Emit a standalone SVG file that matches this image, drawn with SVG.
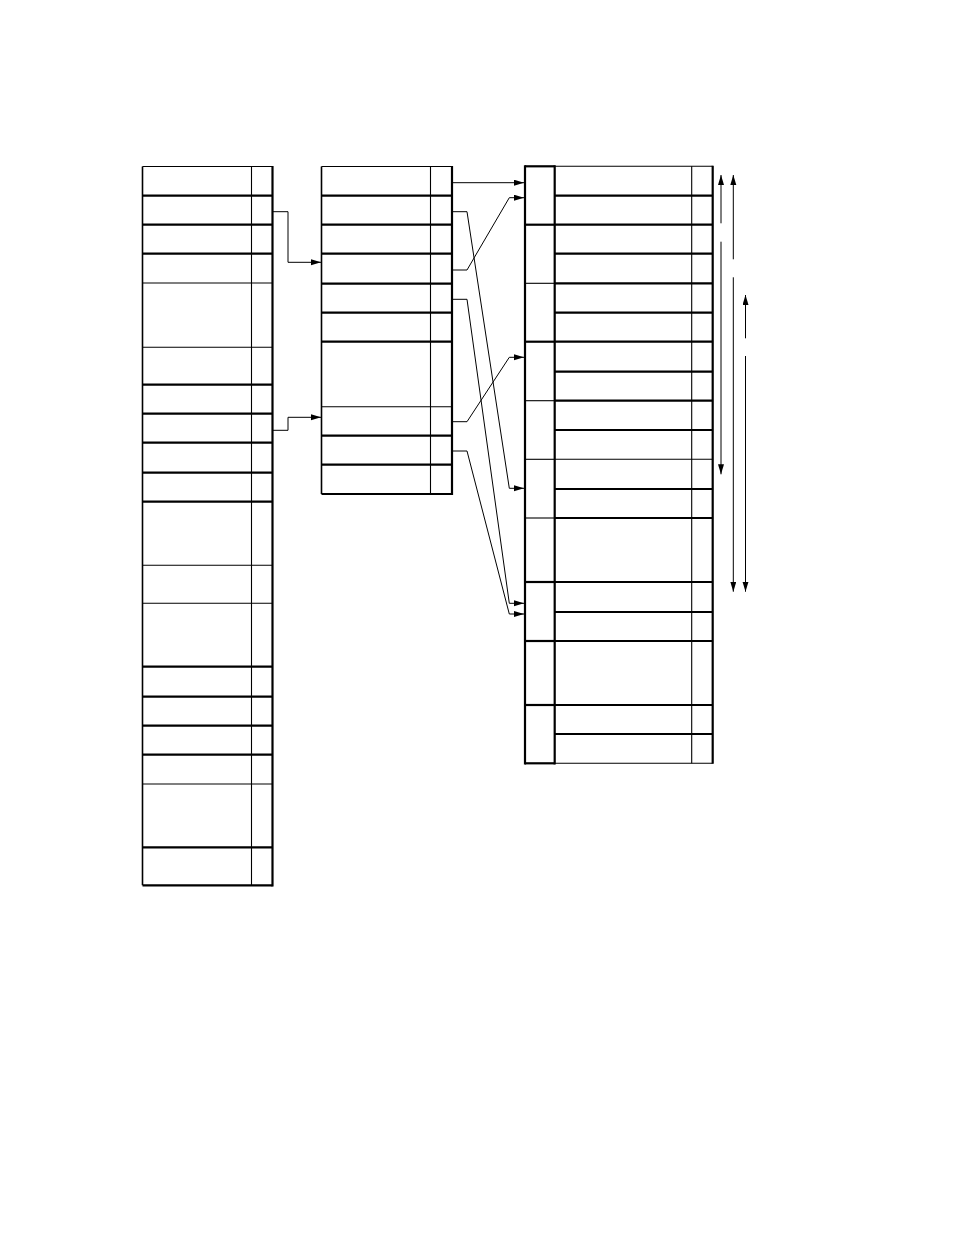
<svg xmlns="http://www.w3.org/2000/svg" width="954" height="1235" viewBox="0 0 954 1235">
<style>
.thick{stroke:#000;stroke-width:2.2;fill:none}
.thin{stroke:#000;stroke-width:1.1;fill:none}
.conn{stroke:#000;stroke-width:1;fill:none;marker-end:url(#ah)}
</style>
<defs>
<marker id="ah" markerUnits="userSpaceOnUse" markerWidth="11" markerHeight="7" refX="10" refY="3" orient="auto">
<path d="M0,0 L10,3 L0,6 z" fill="#000"/>
</marker>
</defs>
<rect width="954" height="1235" fill="#fff"/>
<g id="table-left">
<line class="thin" x1="142.5" y1="166.5" x2="272.5" y2="166.5"/>
<line class="thick" x1="142.5" y1="195.7" x2="272.5" y2="195.7"/>
<line class="thick" x1="142.5" y1="224.7" x2="272.5" y2="224.7"/>
<line class="thick" x1="142.5" y1="253.7" x2="272.5" y2="253.7"/>
<line class="thin" x1="142.5" y1="283" x2="272.5" y2="283"/>
<line class="thin" x1="142.5" y1="347.3" x2="272.5" y2="347.3"/>
<line class="thick" x1="142.5" y1="384.7" x2="272.5" y2="384.7"/>
<line class="thick" x1="142.5" y1="413.7" x2="272.5" y2="413.7"/>
<line class="thick" x1="142.5" y1="442.7" x2="272.5" y2="442.7"/>
<line class="thick" x1="142.5" y1="472.7" x2="272.5" y2="472.7"/>
<line class="thick" x1="142.5" y1="501.7" x2="272.5" y2="501.7"/>
<line class="thin" x1="142.5" y1="565.3" x2="272.5" y2="565.3"/>
<line class="thin" x1="142.5" y1="603.3" x2="272.5" y2="603.3"/>
<line class="thick" x1="142.5" y1="666.7" x2="272.5" y2="666.7"/>
<line class="thick" x1="142.5" y1="696.7" x2="272.5" y2="696.7"/>
<line class="thick" x1="142.5" y1="725.7" x2="272.5" y2="725.7"/>
<line class="thick" x1="142.5" y1="754.7" x2="272.5" y2="754.7"/>
<line class="thin" x1="142.5" y1="784" x2="272.5" y2="784"/>
<line class="thick" x1="142.5" y1="847.3" x2="272.5" y2="847.3"/>
<line class="thick" x1="142.5" y1="885.3" x2="272.5" y2="885.3"/>
<line class="thin" x1="142.5" y1="166.5" x2="142.5" y2="885.3" style="stroke-width:1.6"/>
<line class="thin" x1="251.5" y1="166.5" x2="251.5" y2="885.3"/>
<line class="thick" x1="272.5" y1="166" x2="272.5" y2="886.4"/>
</g>
<g id="table-middle">
<line class="thin" x1="321.5" y1="166.5" x2="452" y2="166.5"/>
<line class="thick" x1="321.5" y1="195.7" x2="452" y2="195.7"/>
<line class="thick" x1="321.5" y1="224.7" x2="452" y2="224.7"/>
<line class="thick" x1="321.5" y1="253.7" x2="452" y2="253.7"/>
<line class="thick" x1="321.5" y1="283.7" x2="452" y2="283.7"/>
<line class="thick" x1="321.5" y1="312.7" x2="452" y2="312.7"/>
<line class="thick" x1="321.5" y1="341.7" x2="452" y2="341.7"/>
<line class="thin" x1="321.5" y1="406.7" x2="452" y2="406.7"/>
<line class="thick" x1="321.5" y1="435.7" x2="452" y2="435.7"/>
<line class="thick" x1="321.5" y1="464.7" x2="452" y2="464.7"/>
<line class="thick" x1="321.5" y1="494" x2="452" y2="494"/>
<line class="thin" x1="321.5" y1="166.5" x2="321.5" y2="494" style="stroke-width:1.6"/>
<line class="thin" x1="430.5" y1="166.5" x2="430.5" y2="494"/>
<line class="thick" x1="452" y1="166" x2="452" y2="495.1"/>
</g>
<g id="table-right">
<line class="thick" x1="525" y1="166.3" x2="554.7" y2="166.3"/>
<line class="thick" x1="525" y1="224.7" x2="554.7" y2="224.7"/>
<line class="thin" x1="525" y1="283.3" x2="554.7" y2="283.3"/>
<line class="thick" x1="525" y1="341.7" x2="554.7" y2="341.7"/>
<line class="thin" x1="525" y1="400.7" x2="554.7" y2="400.7"/>
<line class="thin" x1="525" y1="459.3" x2="554.7" y2="459.3"/>
<line class="thin" x1="525" y1="518" x2="554.7" y2="518"/>
<line class="thick" x1="525" y1="582" x2="554.7" y2="582"/>
<line class="thick" x1="525" y1="641" x2="554.7" y2="641"/>
<line class="thick" x1="525" y1="705" x2="554.7" y2="705"/>
<line class="thick" x1="525" y1="763.3" x2="554.7" y2="763.3"/>
<line class="thin" x1="554.7" y1="166.3" x2="712.7" y2="166.3"/>
<line class="thick" x1="554.7" y1="195.7" x2="712.7" y2="195.7"/>
<line class="thick" x1="554.7" y1="224.7" x2="712.7" y2="224.7"/>
<line class="thick" x1="554.7" y1="253.7" x2="712.7" y2="253.7"/>
<line class="thick" x1="554.7" y1="283.3" x2="712.7" y2="283.3"/>
<line class="thick" x1="554.7" y1="312.7" x2="712.7" y2="312.7"/>
<line class="thick" x1="554.7" y1="341.7" x2="712.7" y2="341.7"/>
<line class="thick" x1="554.7" y1="371.7" x2="712.7" y2="371.7"/>
<line class="thick" x1="554.7" y1="400.7" x2="712.7" y2="400.7"/>
<line class="thick" x1="554.7" y1="430" x2="712.7" y2="430"/>
<line class="thin" x1="554.7" y1="459.3" x2="712.7" y2="459.3"/>
<line class="thick" x1="554.7" y1="489" x2="712.7" y2="489"/>
<line class="thick" x1="554.7" y1="518" x2="712.7" y2="518"/>
<line class="thick" x1="554.7" y1="582" x2="712.7" y2="582"/>
<line class="thick" x1="554.7" y1="612" x2="712.7" y2="612"/>
<line class="thick" x1="554.7" y1="641" x2="712.7" y2="641"/>
<line class="thick" x1="554.7" y1="705" x2="712.7" y2="705"/>
<line class="thick" x1="554.7" y1="734" x2="712.7" y2="734"/>
<line class="thin" x1="554.7" y1="763.3" x2="712.7" y2="763.3"/>
<line class="thick" x1="525" y1="165.2" x2="525" y2="764.4"/>
<line class="thick" x1="554.7" y1="165.2" x2="554.7" y2="764.4"/>
<line class="thin" x1="691.7" y1="166.3" x2="691.7" y2="763.3"/>
<line class="thick" x1="712.7" y1="165.8" x2="712.7" y2="763.8"/>
</g>
<g id="connectors">
<path class="conn" d="M272.5,211.7 H288 V262.3 H321"/>
<path class="conn" d="M272.5,430.3 H288 V417.3 H321"/>
<path class="conn" d="M452,182.7 H524"/>
<path class="conn" d="M452,211.7 H467 L509.3,488.3 H524"/>
<path class="conn" d="M452,270 H467 L509.3,197.7 H524"/>
<path class="conn" d="M452,299.3 H467 L509.3,603.3 H524"/>
<path class="conn" d="M452,421.7 H467 L509.3,357.3 H524"/>
<path class="conn" d="M452,451 H467 L509.3,614 H524"/>
</g>
<g id="dimension-arrows">
<path class="conn" d="M721,223.3 V175"/>
<path class="conn" d="M721,241.7 V474.3"/>
<path class="conn" d="M733.3,259.3 V175"/>
<path class="conn" d="M733.3,277.3 V591.7"/>
<path class="conn" d="M745.5,338.3 V295"/>
<path class="conn" d="M745.5,356 V591.7"/>
</g>
</svg>
